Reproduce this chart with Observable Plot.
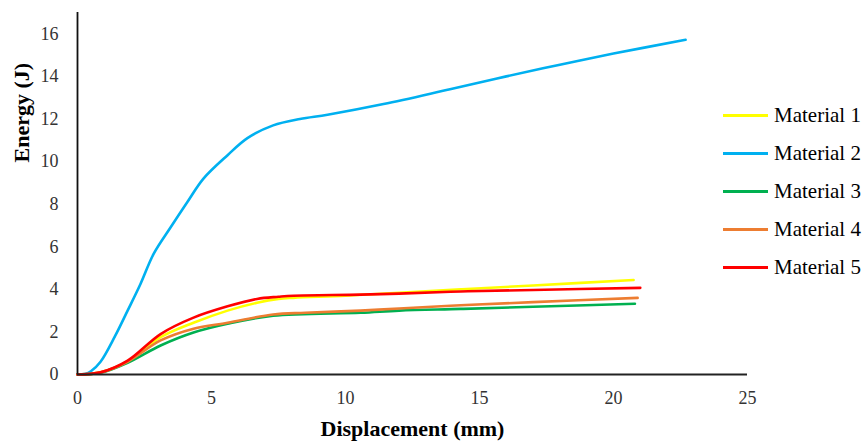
<!DOCTYPE html>
<html>
<head>
<meta charset="utf-8">
<script src="https://cdn.jsdelivr.net/npm/d3@7"></script>
<script src="https://cdn.jsdelivr.net/npm/@observablehq/plot@0.6"></script>
<style>
  body { margin: 0; background: #fff; font-family: "Liberation Serif", "Times New Roman", serif; }
  #wrap { position: relative; width: 868px; height: 441px; }
  #chart svg, #chart svg text { font-family: "Liberation Serif", "Times New Roman", serif !important; }
  #legend { position: absolute; left: 723px; top: 96px; }
  .item { display: flex; align-items: center; height: 38px; }
  .sw { width: 45px; height: 3px; margin-right: 6px; }
  .lab { font-size: 21px; color: #000; line-height: 1; }
</style>
</head>
<body>
<div id="wrap"><div id="chart"></div><div id="legend"></div></div>
<script>
const seriesNames = ["Material 1", "Material 2", "Material 3", "Material 4", "Material 5"];
const seriesColors = ["#FFFF00", "#00B0F0", "#00B050", "#ED7D31", "#FF0000"];

const m1X = [0, 0.86, 1.87, 3.1, 4.33, 5.6, 6.7, 7.5, 8.06, 10, 12, 14.3, 17, 20.75];
const m1Y = [0, 0.1, 0.62, 1.75, 2.43, 3.0, 3.37, 3.55, 3.6, 3.7, 3.84, 4.0, 4.18, 4.44];

const m2X = [0, 0.3, 0.5, 0.86, 1.4, 1.87, 2.35, 2.84, 3.47, 4.1, 4.7, 5.6, 6.34, 7.3, 8.3, 9.33, 11.42, 13.9, 16, 18, 20, 22.69];
const m2Y = [0, 0.03, 0.15, 0.6, 1.8, 3.0, 4.25, 5.66, 6.9, 8.1, 9.2, 10.3, 11.1, 11.7, 12.0, 12.2, 12.7, 13.4, 14.0, 14.55, 15.07, 15.72];

const m3X = [0, 0.86, 1.87, 3.1, 4.33, 5.6, 7.3, 10.56, 12, 14.3, 17, 20.8];
const m3Y = [0, 0.08, 0.55, 1.36, 1.97, 2.38, 2.76, 2.9, 3.0, 3.08, 3.18, 3.32];

const m4X = [0, 0.86, 1.87, 3.1, 4.33, 5.6, 7.3, 8.5, 10.56, 12, 14.3, 17, 20.9];
const m4Y = [0, 0.1, 0.6, 1.6, 2.15, 2.43, 2.82, 2.9, 3.0, 3.1, 3.25, 3.4, 3.6];

const m5X = [0, 0.86, 1.87, 3.1, 4.33, 5.6, 6.7, 7.5, 8.06, 10.56, 12, 14.3, 17, 21.0];
const m5Y = [0, 0.1, 0.65, 1.9, 2.67, 3.2, 3.55, 3.65, 3.7, 3.75, 3.8, 3.9, 3.97, 4.07];

const xTicks = [0, 5, 10, 15, 20, 25];
const yTicks = [0, 2, 4, 6, 8, 10, 12, 14, 16];
const xLabel = "Displacement (mm)";
const yLabel = "Energy (J)";

const allX = [m1X, m2X, m3X, m4X, m5X];
const allY = [m1Y, m2Y, m3Y, m4Y, m5Y];
const rows = [];
seriesNames.forEach((name, i) => {
  allX[i].forEach((x, j) => rows.push({series: name, x, y: allY[i][j]}));
});

const chart = Plot.plot({
  width: 868,
  height: 441,
  marginLeft: 77,
  marginRight: 121,
  marginTop: 12,
  marginBottom: 67,
  style: {fontFamily: '"Liberation Serif", "Times New Roman", serif', background: "#fff"},
  x: {domain: [0, 25], ticks: xTicks, label: null},
  y: {domain: [0, 17], ticks: yTicks, label: null},
  color: {domain: seriesNames, range: seriesColors},
  marks: [
    Plot.axisX({ticks: xTicks, tickSize: 0, tickPadding: 17, fontSize: 18, color: "#333", label: null}),
    Plot.axisY({ticks: yTicks, tickSize: 0, tickPadding: 19, fontSize: 18, color: "#333", label: null}),
    Plot.lineY(rows, {x: "x", y: "y", z: "series", stroke: "series", strokeWidth: 2.6, curve: "catmull-rom"}),
    Plot.ruleX([0], {stroke: "#111", strokeWidth: 1.8}),
    Plot.ruleY([0], {stroke: "#222", strokeWidth: 1.8}),
    Plot.text([xLabel], {frameAnchor: "bottom", dy: 54, fontSize: 22, fontWeight: "bold", fill: "#000", lineAnchor: "middle"}),
    Plot.text([yLabel], {frameAnchor: "left", rotate: -90, dx: -56, dy: -31, fontSize: 22, fontWeight: "bold", fill: "#000", lineAnchor: "middle"})
  ]
});
document.getElementById("chart").appendChild(chart);

const legend = document.getElementById("legend");
seriesNames.forEach((name, i) => {
  const item = document.createElement("div");
  item.className = "item";
  const sw = document.createElement("div");
  sw.className = "sw";
  sw.style.background = seriesColors[i];
  const lab = document.createElement("span");
  lab.className = "lab";
  lab.textContent = name;
  item.appendChild(sw);
  item.appendChild(lab);
  legend.appendChild(item);
});
</script>
</body>
</html>
